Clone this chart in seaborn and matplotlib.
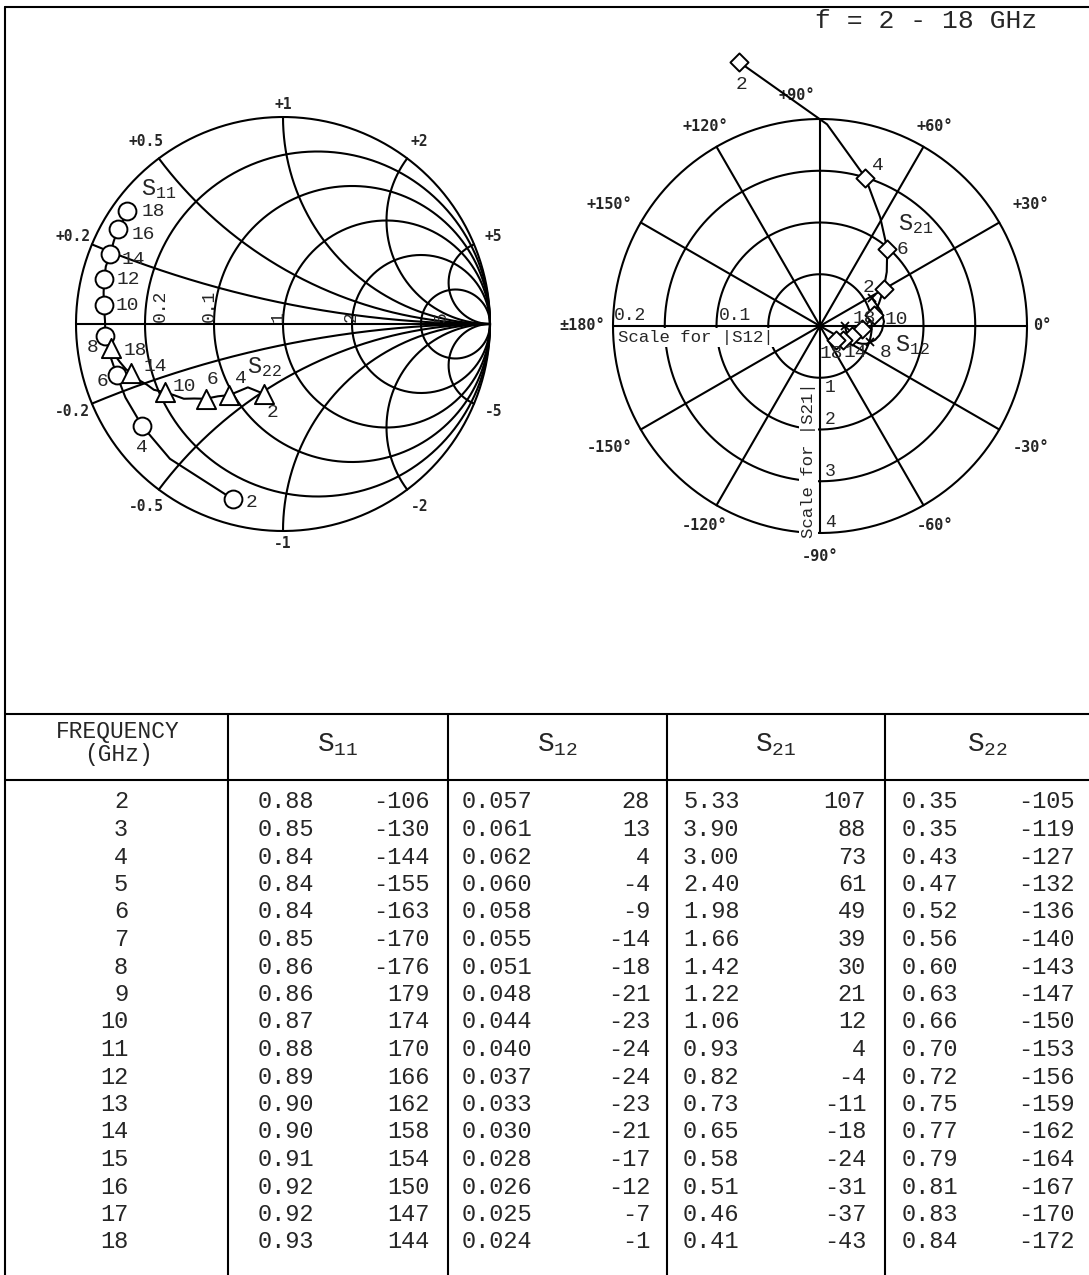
import numpy as np
import pandas as pd
import matplotlib
matplotlib.use("Agg")
import matplotlib.pyplot as plt
import seaborn as sns

# -------------------------------
# Datos (tabla de parametros S)
# -------------------------------
freq = list(range(2, 19))
s11_mag = [0.88, 0.85, 0.84, 0.84, 0.84, 0.85, 0.86, 0.86, 0.87, 0.88, 0.89, 0.90, 0.90, 0.91, 0.92, 0.92, 0.93]
s11_ang = [-106, -130, -144, -155, -163, -170, -176, 179, 174, 170, 166, 162, 158, 154, 150, 147, 144]
s12_mag = [0.057, 0.061, 0.062, 0.060, 0.058, 0.055, 0.051, 0.048, 0.044, 0.040, 0.037, 0.033, 0.030, 0.028, 0.026, 0.025, 0.024]
s12_ang = [28, 13, 4, -4, -9, -14, -18, -21, -23, -24, -24, -23, -21, -17, -12, -7, -1]
s21_mag = [5.33, 3.90, 3.00, 2.40, 1.98, 1.66, 1.42, 1.22, 1.06, 0.93, 0.82, 0.73, 0.65, 0.58, 0.51, 0.46, 0.41]
s21_ang = [107, 88, 73, 61, 49, 39, 30, 21, 12, 4, -4, -11, -18, -24, -31, -37, -43]
s22_mag = [0.35, 0.35, 0.43, 0.47, 0.52, 0.56, 0.60, 0.63, 0.66, 0.70, 0.72, 0.75, 0.77, 0.79, 0.81, 0.83, 0.84]
s22_ang = [-105, -119, -127, -132, -136, -140, -143, -147, -150, -153, -156, -159, -162, -164, -167, -170, -172]

# frecuencias marcadas en cada curva
s11_marked = [2, 4, 6, 8, 10, 12, 14, 16, 18]
s22_marked = [2, 4, 6, 10, 14, 18]
s21_marked = [2, 4, 6, 8, 10, 12, 14, 16, 18]
s12_marked = [2, 8, 18]

# etiquetas de la carta de Smith y del diagrama polar
smith_r = [0.2, 0.5, 1, 2, 5]
smith_x = [0.2, 0.5, 1, 2, 5]
smith_r_text = ["0.2", "0.1", "1", "2", "5"]
polar_rings = [1, 2, 3, 4]
polar_deg = ["0°", "+30°", "+60°", "+90°", "+120°", "+150°", "±180°", "-150°", "-120°", "-90°", "-60°", "-30°"]
s12_scale = 20  # 0.2 en |S12| = anillo 4 de |S21|

# -------------------------------
# Estilo
# -------------------------------
sns.set_theme(style="white")
plt.rcParams['font.family'] = ['Liberation Mono', 'DejaVu Sans Mono']
plt.rcParams['mathtext.fontset'] = 'custom'
plt.rcParams['mathtext.tt'] = 'Liberation Mono'
plt.rcParams['mathtext.rm'] = 'Liberation Mono'

W, H = 1089, 1275
LW = 1.5
fig = plt.figure(figsize=(W / 100, H / 100), dpi=100)


def px_axes(cx, cy, unit, half):
    size = 2 * half * unit
    ax = fig.add_axes([(cx - half * unit) / W, 1 - (cy + half * unit) / H, size / W, size / H])
    ax.set_xlim(-half, half)
    ax.set_ylim(-half, half)
    ax.set_axis_off()
    return ax


def polar_df(mag, ang, scale=1.0):
    a = np.deg2rad(ang)
    m = np.array(mag) * scale
    return pd.DataFrame({"f": freq, "x": m * np.cos(a), "y": m * np.sin(a)})


def curve(ax, df, marked, marker, size, offsets):
    sns.lineplot(data=df, x="x", y="y", sort=False, estimator=None, color="black",
                 lw=LW, ax=ax, zorder=4)
    sub = df[df["f"].isin(marked)]
    if marker == "x":
        ax.plot(sub["x"], sub["y"], "x", color="black", ms=6, mew=1.3, zorder=5)
    else:
        sns.scatterplot(data=sub, x="x", y="y", marker=marker, s=size, facecolor="white",
                        edgecolor="black", linewidth=1.4, ax=ax, zorder=5)
    for f, dx, dy, ha in offsets:
        row = df[df["f"] == f].iloc[0]
        ax.annotate(str(f), (row["x"], row["y"]), xytext=(dx, -dy), textcoords="offset pixels",
                    ha=ha, va="center", fontsize=14, zorder=6)


t = np.linspace(0, 2 * np.pi, 500)

# -------------------------------
# Carta de Smith (S11, S22)
# -------------------------------
ax_s = px_axes(283, 324, 207, 1.35)
ax_s.plot(np.cos(t), np.sin(t), color="black", lw=LW)
ax_s.plot([-1, 1], [0, 0], color="black", lw=LW)
for r in smith_r:
    c, rad = r / (1 + r), 1 / (1 + r)
    ax_s.plot(c + rad * np.cos(t), rad * np.sin(t), color="black", lw=LW)
rr = np.concatenate([[0], np.logspace(-3, 4, 800)])
for xv in smith_x:
    for sgn in (1, -1):
        g = (rr + 1j * sgn * xv - 1) / (rr + 1j * sgn * xv + 1)
        ax_s.plot(g.real, g.imag, color="black", lw=LW)
        e = g[0]
        k = 1.06 if xv == 1 else 1.1
        lab = ("+" if sgn > 0 else "-") + ("%g" % xv)
        ax_s.text(e.real * k, e.imag * k, lab, ha="center", va="center",
                  fontsize=10.5, fontweight="bold", family="DejaVu Sans Mono")
for xpos, lab in zip([-0.59, -0.357, -0.025, 0.33, 0.765], smith_r_text):
    ax_s.text(xpos, 0.012, lab, rotation=90, ha="center", va="bottom", fontsize=13)

s11 = polar_df(s11_mag, s11_ang)
s22 = polar_df(s22_mag, s22_ang)
curve(ax_s, s11, s11_marked, "o", 165,
      [(2, 13, 3, "left"), (4, 0, 21, "center"), (6, -8, 7, "right"), (8, -7, 11, "right"),
       (10, 12, 0, "left"), (12, 12, 0, "left"), (14, 11, 5, "left"), (16, 14, 6, "left"),
       (18, 14, 1, "left")])
curve(ax_s, s22, s22_marked, "^", 190,
      [(18, 13, 2, "left"), (14, 12, -7, "left"), (10, 8, -6, "left"), (6, 7, -19, "center"),
       (4, 11, -17, "center"), (2, 8, 19, "center")])
ax_s.text(-0.60, 0.65, r"$\mathtt{S_{11}}$", ha="center", va="center", fontsize=17)
ax_s.text(-0.09, -0.21, r"$\mathtt{S_{22}}$", ha="center", va="center", fontsize=17)

# -------------------------------
# Diagrama polar (S21, S12)
# -------------------------------
ax_p = px_axes(820, 326, 51.75, 5.6)
for k in polar_rings:
    ax_p.plot(k * np.cos(t), k * np.sin(t), color="black", lw=LW, zorder=1)
for i, lab in enumerate(polar_deg):
    a = np.deg2rad(30 * i)
    ax_p.plot([0, 4 * np.cos(a)], [0, 4 * np.sin(a)], color="black", lw=LW, zorder=2)
    rl = 4.45
    if i in (1, 5, 7, 11):
        rl = 4.7
    elif i == 0:
        rl = 4.3
    elif i == 6:
        rl = 4.6
    dx = -0.45 if i == 3 else 0
    ax_p.text(rl * np.cos(a) + dx, rl * np.sin(a), lab, ha="center", va="center",
              fontsize=11, fontweight="bold", family="DejaVu Sans Mono")
for k in polar_rings:
    if k == 1:
        ax_p.text(0.1, -k - 0.03, str(k), ha="left", va="top", fontsize=13)
    else:
        ax_p.text(0.1, -k + 0.03, str(k), ha="left", va="bottom", fontsize=13)
ax_p.text(-3.98, 0.03, "0.2", ha="left", va="bottom", fontsize=13)
ax_p.text(-1.95, 0.03, "0.1", ha="left", va="bottom", fontsize=13)
box = dict(facecolor="white", edgecolor="none", pad=1.5)
ax_p.text(-2.4, -0.08, "Scale for |S12|", ha="center", va="top", fontsize=12.5, bbox=box, zorder=3)
ax_p.text(-0.08, -2.6, "Scale for |S21|", ha="right", va="center", rotation=90, fontsize=12.5,
          bbox=box, zorder=3)

s21 = polar_df(s21_mag, s21_ang)
s12 = polar_df(s12_mag, s12_ang, s12_scale)
curve(ax_p, s21, s21_marked, "D", 85,
      [(2, 2, 22, "center"), (4, 12, -12, "center"), (6, 9, 1, "left"), (10, 11, 5, "left"),
       (14, 3, 16, "center"), (18, -4, 13, "center")])
curve(ax_p, s12, s12_marked, "x", 0,
      [(2, -4, -11, "center"), (8, 10, 10, "left"), (18, 8, -8, "left")])
ax_p.text(1.85, 1.97, r"$\mathtt{S_{21}}$", ha="center", va="center", fontsize=17)
ax_p.text(1.78, -0.37, r"$\mathtt{S_{12}}$", ha="center", va="center", fontsize=17)

# -------------------------------
# Marco y tabla
# -------------------------------
ax_t = fig.add_axes([0, 0, 1, 1], zorder=-1)
ax_t.set_xlim(0, W)
ax_t.set_ylim(H, 0)
ax_t.set_axis_off()
ax_t.plot([5, W], [7, 7], color="black", lw=LW)
ax_t.plot([5, 5], [7, H], color="black", lw=LW)
ax_t.plot([5, W], [714, 714], color="black", lw=LW)
ax_t.plot([5, W], [780, 780], color="black", lw=LW)
cols = [228, 448, 667, 885]
for cx in cols:
    ax_t.plot([cx, cx], [714, H], color="black", lw=LW)
ax_t.text(815, 28, "f = 2 - 18 GHz", ha="left", va="baseline", fontsize=19)

ax_t.text(118, 743, "FREQUENCY\n(GHz)", ha="center", va="center", fontsize=16.5, linespacing=0.95)
heads = ["S_{11}", "S_{12}", "S_{21}", "S_{22}"]
edges = cols + [W]
for i, hd in enumerate(heads):
    ax_t.text((edges[i] + edges[i + 1]) / 2, 745, r"$\mathtt{%s}$" % hd, ha="center", va="center",
              fontsize=20)

mag_cols = [(s11_mag, "{:.2f}"), (s12_mag, "{:.3f}"), (s21_mag, "{:.2f}"), (s22_mag, "{:.2f}")]
ang_cols = [s11_ang, s12_ang, s21_ang, s22_ang]
mag_x = [258, 462, 683, 902]
ang_x = [430, 650, 866, 1075]
for j, f in enumerate(freq):
    y = 802 + j * 27.5
    ax_t.text(128, y, str(f), ha="right", va="center", fontsize=17)
    for c in range(4):
        vals, fmt = mag_cols[c]
        ax_t.text(mag_x[c], y, fmt.format(vals[j]), ha="left", va="center", fontsize=17)
        ax_t.text(ang_x[c], y, str(ang_cols[c][j]), ha="right", va="center", fontsize=17)

fig.savefig("out.png", dpi=100, facecolor="white")
